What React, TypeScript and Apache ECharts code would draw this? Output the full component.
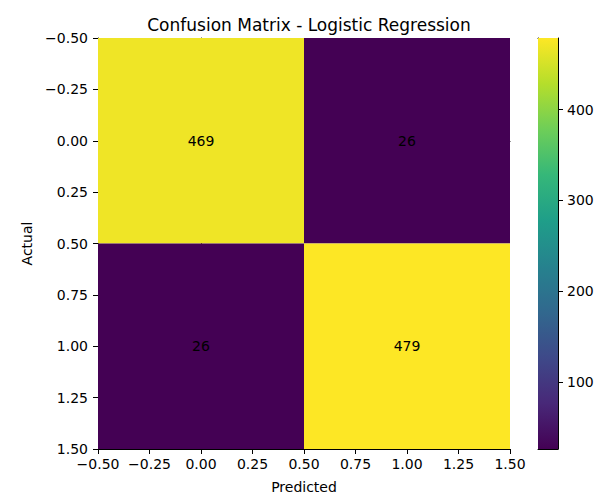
import React, { useEffect, useRef } from "react";
import * as echarts from "echarts";

const predictedLabels = [0, 1];
const actualLabels = [0, 1];
const matrixRows = [
  [469, 26],
  [26, 479],
];
const colorbarTicks = [100, 200, 300, 400];
const viridis = [
  "#440154", "#482878", "#3e4989", "#31688e", "#26828e",
  "#1f9e89", "#35b779", "#6ece58", "#b5de2b", "#fde725",
];
const titleText = "Confusion Matrix - Logistic Regression";

const FONT = "DejaVu Sans";

const fmt = (v: number) => (v < 0 ? "\u2212" : "") + Math.abs(v).toFixed(2);

export default function App() {
  const ref = useRef<HTMLDivElement>(null);
  useEffect(() => {
    if (!ref.current) return;
    const chart = echarts.init(ref.current, undefined, { renderer: "svg" });
    const cells: number[][] = [];
    actualLabels.forEach((a, r) =>
      predictedLabels.forEach((p, c) => cells.push([p, a, matrixRows[r][c]]))
    );
    const flat = cells.map((d) => d[2]);
    const vMin = Math.min(...flat);
    const vMax = Math.max(...flat);

    const tickStyle = { color: "#000", fontSize: 14, fontFamily: FONT };
    const lineStyle = { color: "#000", width: 1 };

    const frameAxis = (extra: any) => ({
      type: "value",
      axisLine: { show: true, lineStyle },
      axisTick: { show: false },
      axisLabel: { show: false },
      splitLine: { show: false },
      ...extra,
    });

    chart.setOption({
      animation: false,
      backgroundColor: "#fff",
      title: {
        text: titleText,
        left: 304,
        textAlign: "center",
        top: 11,
        textStyle: { color: "#000", fontSize: 17, fontWeight: "normal", fontFamily: FONT },
      },
      grid: [
        { left: 98, top: 38, width: 412, height: 411, containLabel: false, outerBoundsMode: "none" },
        { left: 538, top: 38, width: 20, height: 411, containLabel: false, outerBoundsMode: "none" },
      ],
      visualMap: {
        type: "continuous",
        show: false,
        min: vMin,
        max: vMax,
        dimension: 2,
        seriesIndex: 0,
        inRange: { color: viridis },
      },
      xAxis: [
        {
          type: "value",
          gridIndex: 0,
          min: -0.5,
          max: 1.5,
          interval: 0.25,
          position: "bottom",
          name: "Predicted",
          nameLocation: "middle",
          nameGap: 31,
          nameTextStyle: { color: "#000", fontSize: 14, fontFamily: FONT },
          axisLine: { show: true, onZero: false, lineStyle },
          axisTick: { show: true, inside: false, length: 5, lineStyle },
          axisLabel: { ...tickStyle, margin: 8, formatter: fmt },
          splitLine: { show: false },
        },
        frameAxis({ gridIndex: 0, min: -0.5, max: 1.5, position: "top" }),
        frameAxis({ gridIndex: 1, min: 0, max: 1, position: "bottom" }),
        frameAxis({ gridIndex: 1, min: 0, max: 1, position: "top" }),
      ],
      yAxis: [
        {
          type: "value",
          gridIndex: 0,
          min: -0.5,
          max: 1.5,
          interval: 0.25,
          inverse: true,
          position: "left",
          name: "Actual",
          nameLocation: "middle",
          nameGap: 64,
          nameTextStyle: { color: "#000", fontSize: 14, fontFamily: FONT },
          axisLine: { show: true, onZero: false, lineStyle },
          axisTick: { show: true, inside: false, length: 5, lineStyle },
          axisLabel: { ...tickStyle, margin: 10, formatter: fmt },
          splitLine: { show: false },
        },
        frameAxis({ gridIndex: 0, min: -0.5, max: 1.5, inverse: true, position: "right" }),
        {
          type: "value",
          gridIndex: 1,
          min: vMin,
          max: vMax,
          position: "right",
          axisLine: { show: true, onZero: false, lineStyle },
          axisTick: { show: true, length: 5, lineStyle, customValues: colorbarTicks },
          axisLabel: { ...tickStyle, margin: 9, customValues: colorbarTicks },
          splitLine: { show: false },
        },
        frameAxis({ gridIndex: 1, min: vMin, max: vMax, position: "left" }),
      ],
      series: [
        {
          type: "custom",
          xAxisIndex: 0,
          yAxisIndex: 0,
          data: cells,
          encode: { x: 0, y: 1 },
          renderItem: (params: any, api: any) => {
            const x = api.value(0);
            const y = api.value(1);
            const v = api.value(2);
            const p0 = api.coord([x - 0.5, y - 0.5]);
            const p1 = api.coord([x + 0.5, y + 0.5]);
            return {
              type: "group",
              children: [
                {
                  type: "rect",
                  shape: {
                    x: Math.min(p0[0], p1[0]),
                    y: Math.min(p0[1], p1[1]),
                    width: Math.abs(p1[0] - p0[0]),
                    height: Math.abs(p1[1] - p0[1]),
                  },
                  style: { fill: api.visual("color") },
                },
                {
                  type: "text",
                  x: (p0[0] + p1[0]) / 2,
                  y: (p0[1] + p1[1]) / 2,
                  style: {
                    text: String(v),
                    fill: "#000",
                    fontSize: 14,
                    fontFamily: FONT,
                    align: "center",
                    verticalAlign: "middle",
                  },
                },
              ],
            };
          },
          z: 1,
        },
        {
          type: "custom",
          xAxisIndex: 2,
          yAxisIndex: 2,
          data: [[0, vMin, vMax]],
          encode: { x: 0, y: [1, 2] },
          renderItem: (params: any, api: any) => {
            const p0 = api.coord([0, api.value(1)]);
            const p1 = api.coord([1, api.value(2)]);
            return {
              type: "rect",
              shape: {
                x: Math.min(p0[0], p1[0]),
                y: Math.min(p0[1], p1[1]),
                width: Math.abs(p1[0] - p0[0]),
                height: Math.abs(p1[1] - p0[1]),
              },
              style: {
                fill: new echarts.graphic.LinearGradient(
                  0, 1, 0, 0,
                  viridis.map((c, i) => ({ offset: i / (viridis.length - 1), color: c }))
                ),
              },
            };
          },
          z: 1,
        },
      ],
    });
    return () => chart.dispose();
  }, []);
  return (
    <div
      ref={ref}
      style={{ position: "fixed", left: 0, top: 0, width: 597, height: 495 }}
    />
  );
}
